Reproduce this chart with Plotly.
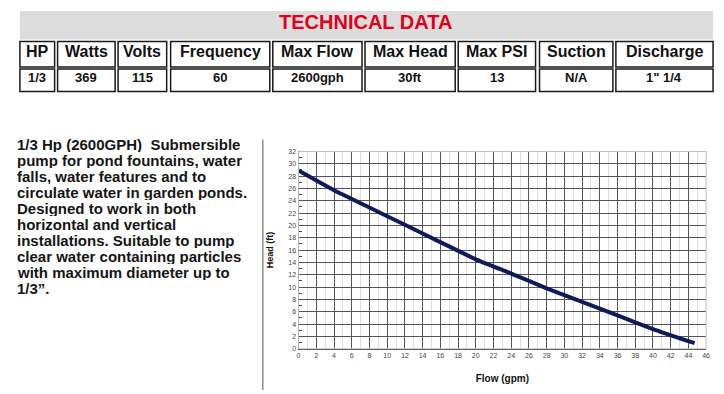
import plotly.graph_objects as go

# ---------------- data ----------------
title_text = "TECHNICAL DATA"
spec_headers = ["HP", "Watts", "Volts", "Frequency", "Max Flow", "Max Head", "Max PSI", "Suction", "Discharge"]
spec_values = ["1/3", "369", "115", "60", "2600gph", "30ft", "13", "N/A", "1\" 1/4"]

description_lines = [
    "1/3 Hp (2600GPH)  Submersible",
    "pump for pond fountains, water",
    "falls, water features and to",
    "circulate water in garden ponds.",
    "Designed to work in both",
    "horizontal and vertical",
    "installations. Suitable to pump",
    "clear water containing particles",
    "with maximum diameter up to",
    "1/3\u201d.",
]

flow_gpm = [0, 4, 8, 12, 16, 20, 24, 28, 32, 36, 40, 44.7]
head_ft = [28.9, 25.7, 22.9, 20.1, 17.3, 14.5, 12.2, 9.8, 7.6, 5.4, 3.2, 0.9]

# ---------------- layout helpers ----------------
# the page body keeps an 8px margin, so the figure is drawn 8px smaller
OFF = 8
W, H = 724 - OFF, 394 - OFF


def px(x):
    return (x - OFF) / W


def py(y):
    return 1 - (y - OFF) / H


FONT = "Liberation Sans, Arial, sans-serif"
col_edges = [(18, 53), (56, 114), (117, 166), (170, 270), (273, 363),
             (366, 457), (460, 538), (542, 616), (619, 717)]
header_row = (38, 64)
value_row = (66, 89)

shapes = []
annotations = []

# grey title band
shapes.append(dict(type="rect", xref="paper", yref="paper",
                   x0=px(18), x1=px(717), y0=py(36), y1=py(7),
                   fillcolor="#dcdcdc", line=dict(width=0), layer="below"))
annotations.append(dict(xref="paper", yref="paper", x=px(367), y=py(18.5),
                        text="<b>" + title_text + "</b>", showarrow=False,
                        font=dict(family=FONT, size=20, color="#e0001b"),
                        xanchor="center", yanchor="middle"))

for (x0, x1), hdr, val in zip(col_edges, spec_headers, spec_values):
    for (y0, y1), txt, fs in ((header_row, hdr, 16), (value_row, val, 13)):
        shapes.append(dict(type="rect", xref="paper", yref="paper",
                           x0=px(x0), x1=px(x1), y0=py(y1), y1=py(y0),
                           line=dict(color="#1a1a1a", width=1.5)))
        annotations.append(dict(xref="paper", yref="paper",
                                x=px((x0 + x1) / 2), y=py((y0 + y1) / 2 - 2.5),
                                text="<b>" + txt + "</b>", showarrow=False,
                                font=dict(family=FONT, size=fs, color="#111111"),
                                xanchor="center", yanchor="middle"))

# description text
for i, line in enumerate(description_lines):
    annotations.append(dict(xref="paper", yref="paper", x=px(13), y=py(142 + 16.4 * i),
                            text="<b>" + line + "</b>", showarrow=False, height=16,
                            font=dict(family=FONT, size=15, color="#151515"),
                            xanchor="left", yanchor="middle"))

# vertical separator
shapes.append(dict(type="line", xref="paper", yref="paper",
                   x0=px(263), x1=px(263), y0=py(138), y1=py(393),
                   line=dict(color="#555555", width=1)))

# ---------------- figure ----------------
fig = go.Figure()
fig.add_trace(go.Scatter(x=flow_gpm, y=head_ft, mode="lines",
                         line=dict(color="#0e1a5a", width=4, shape="spline", smoothing=0.4),
                         hoverinfo="skip", showlegend=False))

# light plot border at top/right
shapes.append(dict(type="rect", xref="x domain", yref="y domain", x0=0, x1=1, y0=0, y1=1,
                   line=dict(color="#bbbbbb", width=1)))

fig.update_layout(
    width=W, height=H,
    margin=dict(l=0, r=0, t=0, b=0),
    paper_bgcolor="white", plot_bgcolor="white",
    shapes=shapes, annotations=annotations,
    xaxis=dict(domain=[px(299), px(710)], range=[0, 46], dtick=2, tick0=0,
               showgrid=True, gridcolor="#555555", gridwidth=1,
               minor=dict(dtick=1, showgrid=True, gridcolor="#dddddd", gridwidth=1),
               showline=True, linecolor="#444444", linewidth=1, mirror=False,
               zeroline=False, ticks="", ticklen=0,
               tickfont=dict(family=FONT, size=7, color="#444444"),
               title=dict(text="<b>Flow (gpm)</b>", standoff=16,
                          font=dict(family=FONT, size=10, color="#111111")),
               fixedrange=True),
    yaxis=dict(domain=[py(351), py(150)], range=[0, 32], dtick=2, tick0=0,
               showgrid=True, gridcolor="#555555", gridwidth=1,
               minor=dict(dtick=1, ticks="inside", ticklen=3, tickcolor="#444444", showgrid=False),
               showline=True, linecolor="#444444", linewidth=1, mirror=False,
               zeroline=False, ticks="", ticklen=0,
               tickfont=dict(family=FONT, size=7, color="#444444"),
               title=dict(text="<b>Head (ft)</b>", standoff=13,
                          font=dict(family=FONT, size=9, color="#111111")),
               fixedrange=True),
)

fig.write_html("out.html")
